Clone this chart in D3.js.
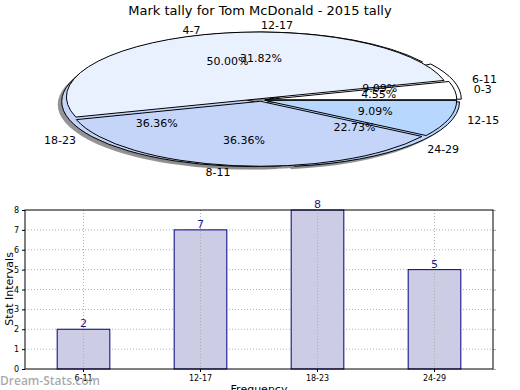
<!DOCTYPE html>
<html><head><meta charset="utf-8">
<script src="https://cdn.jsdelivr.net/npm/d3@7/dist/d3.min.js"></script>
<style>body{margin:0;background:#fff}svg{display:block;font-family:"DejaVu Sans",sans-serif}</style>
</head><body>
<svg id="c" width="520" height="390"></svg>
<script>
const title = "Mark tally for Tom McDonald - 2015 tally";
const pieALabels = ["6-11","12-17","18-23","24-29"];
const pieAValues = [2,7,8,5];
const pieBLabels = ["0-3","4-7","8-11","12-15"];
const pieBValues = [1,11,8,2];
const barCategories = ["6-11","12-17","18-23","24-29"];
const barValues = [2,7,8,5];
const yTicks = [0,1,2,3,4,5,6,7,8];
const sliceColors = ["#ffffff","#eaf1fe","#c5d5fa","#b7d7ff"];

const svg = d3.select("#c");
svg.append("text").attr("x",260).attr("y",15).attr("text-anchor","middle")
  .attr("font-size",13).text(title);

// ---- Pie (elliptical, counterclockwise from east like matplotlib) ----
const cx = 261, cy = 100, rx = 192, ry = 65;
const pieGen = d3.pie().sort(null).startAngle(Math.PI/2).endAngle(Math.PI/2 - 2*Math.PI);
const arcGen = d3.arc().innerRadius(0).outerRadius(1);
const pieG = svg.append("g");
const shadowG = pieG.append("g");
const wedgeG = pieG.append("g");
const textG = svg.append("g");

function midTheta(d){ // matplotlib angle (ccw from east)
  const a = (d.startAngle + d.endAngle)/2; // d3 angle (cw from north)
  return Math.PI/2 - a;
}
function drawPie(values, labels, exp){
  const arcs = pieGen(values);
  const total = d3.sum(values);
  arcs.forEach((d,i)=>{
    const th = midTheta(d);
    const ox = cx + exp*rx*Math.cos(th), oy = cy - exp*ry*Math.sin(th);
    shadowG.append("path").attr("d", arcGen(d))
      .attr("transform",`translate(${ox-4},${oy+3}) scale(${rx},${ry})`)
      .attr("fill","#888").attr("fill-opacity",0.9);
    wedgeG.append("path").attr("d", arcGen(d))
      .attr("transform",`translate(${ox},${oy}) scale(${rx},${ry})`)
      .attr("fill", sliceColors[i % sliceColors.length])
      .attr("stroke","#000").attr("stroke-width",1)
      .attr("vector-effect","non-scaling-stroke");
    const lx = ox + 1.1*rx*Math.cos(th), ly = oy - 1.1*ry*Math.sin(th);
    textG.append("text").attr("x",lx).attr("y",ly).attr("dy","0.35em")
      .attr("text-anchor", Math.cos(th) > -1e-9 ? "start" : "end")
      .attr("font-size",11).text(labels[i]);
    const px = ox + 0.6*rx*Math.cos(th), py = oy - 0.6*ry*Math.sin(th);
    textG.append("text").attr("x",px).attr("y",py).attr("dy","0.35em")
      .attr("text-anchor","middle").attr("font-size",11)
      .text((values[i]/total*100).toFixed(2)+"%");
  });
}
drawPie(pieAValues, pieALabels, 0.045);
drawPie(pieBValues, pieBLabels, 0.02);

// ---- Bar chart ----
const bx0 = 25, bx1 = 493, by0 = 210, by1 = 369;
const x = d3.scaleBand().domain(barCategories).range([bx0,bx1]).paddingInner(0.55).paddingOuter(0.275);
const y = d3.scaleLinear().domain([0,8]).range([by1,by0]);
const bg = svg.append("g");
bg.selectAll(".hg").data(yTicks.slice(1,-1)).join("line")
  .attr("x1",bx0).attr("x2",bx1).attr("y1",d=>y(d)).attr("y2",d=>y(d))
  .attr("stroke","#b0b0b0").attr("stroke-dasharray","1,2");
bg.selectAll(".bar").data(barValues).join("rect")
  .attr("x",(d,i)=>x(barCategories[i])).attr("width",x.bandwidth())
  .attr("y",d=>y(d)).attr("height",d=>y(0)-y(d))
  .attr("fill","#ccccE4").attr("stroke","#000080").attr("stroke-width",1);
bg.selectAll(".vg").data(barCategories).join("line")
  .attr("x1",d=>x(d)+x.bandwidth()/2).attr("x2",d=>x(d)+x.bandwidth()/2)
  .attr("y1",by0).attr("y2",by1)
  .attr("stroke","#b0b0b0").attr("stroke-dasharray","1,2");
bg.selectAll(".vl").data(barValues).join("text")
  .attr("x",(d,i)=>x(barCategories[i])+x.bandwidth()/2).attr("y",d=>y(d)-2)
  .attr("text-anchor","middle").attr("font-size",11).attr("fill","#1a1a8c").text(d=>d);
const yAxis = d3.axisLeft(y).tickValues(yTicks).tickSize(3).tickPadding(3);
const ya = bg.append("g").attr("transform",`translate(${bx0},0)`).call(yAxis);
ya.select(".domain").remove();
ya.selectAll("text").attr("font-size",8).attr("font-family","DejaVu Sans");
const yr = bg.append("g").attr("transform",`translate(${bx1},0)`).call(d3.axisRight(y).tickValues(yTicks).tickSize(3).tickFormat(""));
yr.select(".domain").remove();
yr.selectAll("line").attr("stroke","#aaa");
const xAxis = d3.axisBottom(x).tickSize(3).tickPadding(3);
const xa = bg.append("g").attr("transform",`translate(0,${by1})`).call(xAxis);
xa.select(".domain").remove();
xa.selectAll("text").attr("font-size",8).attr("font-family","DejaVu Sans");
bg.append("rect").attr("x",bx0).attr("y",by0).attr("width",bx1-bx0).attr("height",by1-by0)
  .attr("fill","none").attr("stroke","#000").attr("stroke-width",1);
svg.append("text").attr("transform","translate(13,289) rotate(-90)")
  .attr("text-anchor","middle").attr("font-size",11).text("Stat Intervals");
svg.append("text").attr("x",259).attr("y",393).attr("text-anchor","middle")
  .attr("font-size",11).text("Frequency");
svg.append("text").attr("x",0).attr("y",385).attr("font-size",12).attr("font-weight","600")
  .attr("font-family","Open Sans").attr("fill","#999").attr("fill-opacity",0.85).text("Dream-Stats.com");
</script>
</body></html>
